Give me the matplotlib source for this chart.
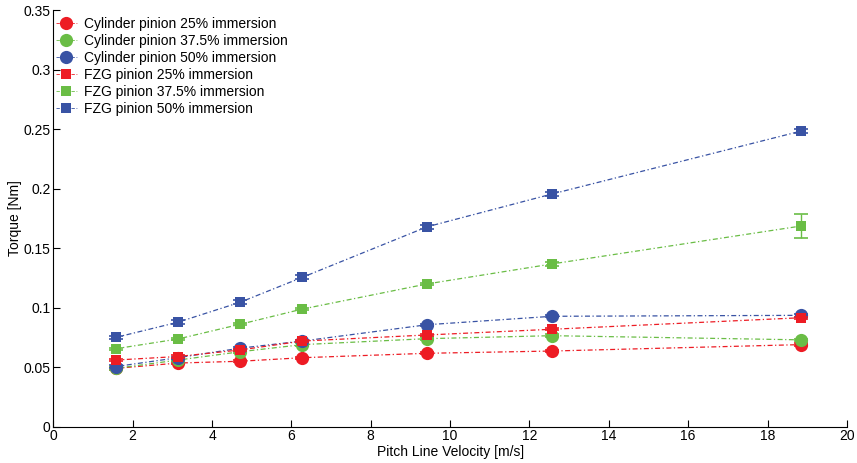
import matplotlib
matplotlib.use("Agg")
import matplotlib.pyplot as plt
from matplotlib.lines import Line2D

plt.rcParams['font.family'] = ['Liberation Sans', 'DejaVu Sans']

velocity = [1.57, 3.14, 4.71, 6.28, 9.42, 12.57, 18.85]

cyl_25 = [0.0490, 0.0535, 0.0550, 0.0580, 0.0617, 0.0636, 0.0690]
cyl_375 = [0.0490, 0.0560, 0.0630, 0.0690, 0.0740, 0.0765, 0.0730]
cyl_50 = [0.0505, 0.0580, 0.0660, 0.0720, 0.0857, 0.0928, 0.0936]
fzg_25 = [0.0560, 0.0590, 0.0645, 0.0720, 0.0771, 0.0819, 0.0916]
fzg_375 = [0.0655, 0.0737, 0.0861, 0.0989, 0.1200, 0.1368, 0.1687]
fzg_50 = [0.0750, 0.0878, 0.1046, 0.1256, 0.1680, 0.1956, 0.2485]

err_cyl_25 = [0.001, 0.001, 0.001, 0.001, 0.001, 0.001, 0.001]
err_cyl_375 = [0.001, 0.001, 0.001, 0.001, 0.001, 0.001, 0.001]
err_cyl_50 = [0.001, 0.001, 0.001, 0.001, 0.001, 0.001, 0.001]
err_fzg_25 = [0.001, 0.001, 0.001, 0.001, 0.001, 0.001, 0.001]
err_fzg_375 = [0.001, 0.001, 0.001, 0.001, 0.001, 0.0015, 0.0097]
err_fzg_50 = [0.0015, 0.0015, 0.0015, 0.0015, 0.0015, 0.0015, 0.002]

labels = ["Cylinder pinion 25% immersion", "Cylinder pinion 37.5% immersion",
          "Cylinder pinion 50% immersion", "FZG pinion 25% immersion",
          "FZG pinion 37.5% immersion", "FZG pinion 50% immersion"]

xticks = [0, 2, 4, 6, 8, 10, 12, 14, 16, 18, 20]
yticks = [0, 0.05, 0.1, 0.15, 0.2, 0.25, 0.3, 0.35]
ytick_labels = ["0", "0.05", "0.1", "0.15", "0.2", "0.25", "0.3", "0.35"]

red = "#ED1C24"
green = "#6ABD45"
blue = "#3953A4"

series = [
    (cyl_25, err_cyl_25, red, "o", 9.5),
    (cyl_375, err_cyl_375, green, "o", 9.5),
    (cyl_50, err_cyl_50, blue, "o", 9.5),
    (fzg_25, err_fzg_25, red, "s", 7),
    (fzg_375, err_fzg_375, green, "s", 7),
    (fzg_50, err_fzg_50, blue, "s", 7),
]

ls = (0, (4, 2, 1, 2))

fig = plt.figure(figsize=(8.57, 4.63), dpi=100)
ax = fig.add_axes([0.0622, 0.0784, 0.926, 0.8994])

handles = []
for (vals, err, col, mk, ms), lab in zip(series, labels):
    ax.errorbar(velocity, vals, yerr=err, fmt="none", ecolor=col,
                elinewidth=1.0, capsize=5, capthick=1.2)
    ax.plot(velocity, vals, color=col, marker=mk, markersize=ms,
            linestyle=ls, linewidth=0.9, markeredgewidth=0)
    handles.append(Line2D([], [], color=col, marker=mk, markersize=ms,
                          linestyle=ls, linewidth=0.6,
                          markeredgewidth=0, label=lab))

ax.set_xlim(0, 20)
ax.set_ylim(0, 0.35)
ax.set_xticks(xticks)
ax.set_xticklabels([str(t) for t in xticks])
ax.set_yticks(yticks)
ax.set_yticklabels(ytick_labels)
ax.tick_params(direction="in", length=5, labelsize=10, pad=2)
ax.spines["top"].set_visible(False)
ax.spines["right"].set_visible(False)
ax.set_xlabel("Pitch Line Velocity [m/s]", fontsize=10, labelpad=1)
ax.set_ylabel("Torque [Nm]", fontsize=10, labelpad=1)

ax.legend(handles=handles, loc="upper left", frameon=False, fontsize=10,
          handlelength=1.5, handletextpad=0.5, labelspacing=0.22,
          borderaxespad=0.0, borderpad=0.3, bbox_to_anchor=(-0.002, 0.995))

fig.savefig("out.png", dpi=100)
